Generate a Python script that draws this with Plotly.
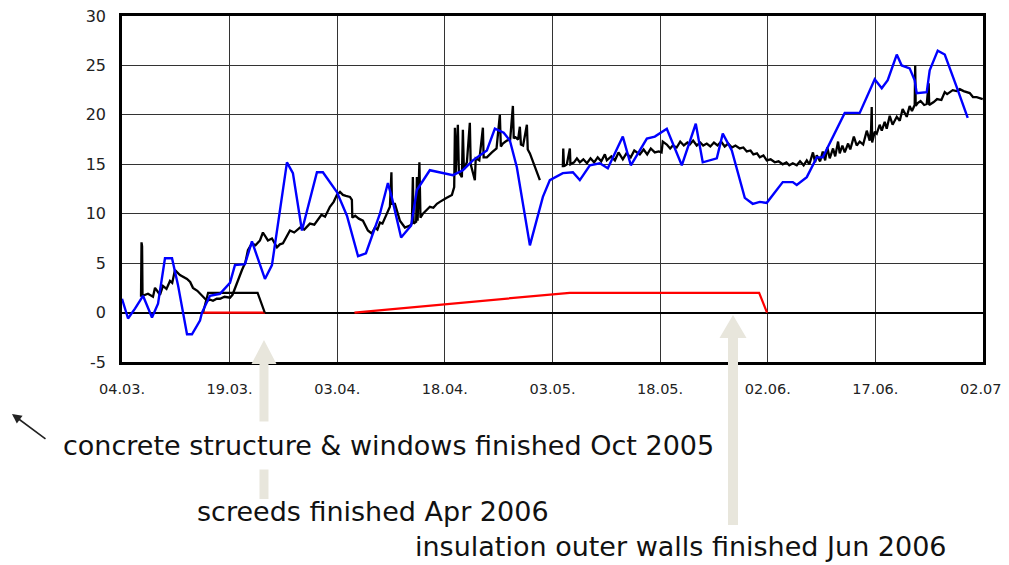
import pandas as pd
import plotly.graph_objects as go

START = "2006-03-04"

# axis ticks
tick_days = [0, 15, 30, 45, 60, 75, 90, 105, 120]
tick_labels = ["04.03.", "19.03.", "03.04.", "18.04.", "03.05.", "18.05.", "02.06.", "17.06.", "02.07."]
y_ticks = [-5, 0, 5, 10, 15, 20, 25, 30]
y_tick_labels = ["-5", "0", "5", "10", "15", "20", "25", "30"]

# outside temperature (blue), days since 04.03.
blue_days = [0, 0.84, 1.81, 2.93, 4.18, 5.02, 5.99, 6.97, 7.80, 9.06, 9.75, 10.87, 11.15, 12.26,
             13.65, 15.05, 15.74, 17.14, 18.11, 19.92, 20.90, 22.99, 23.82, 25.08, 27.17, 28.0,
             29.95, 31.35, 32.9, 34.0, 35.95, 37.06, 37.62, 38.9, 40.3, 41.1, 42.9, 44.72, 46.12,
             47.51, 48.90, 50.85, 51.97, 53.2, 54.06, 55.03, 56.85, 58.66, 59.63, 61.44, 62.84,
             63.81, 65.21, 66.60, 67.71, 69.80, 70.92, 73.15, 74.26, 75.93, 78.02, 79.97, 80.94,
             82.90, 83.73, 84.99, 86.10, 86.8, 87.91, 88.89, 89.86, 90.98, 92.09, 93.49, 94.04,
             95.44, 96.83, 97.67, 98.64, 100.73, 102.82, 104.91, 105.89, 106.72, 107.98, 108.67,
             109.78, 110.48, 110.76, 112.16, 112.57, 113.69, 114.67, 115.64, 116.34, 117.87]
blue_vals = [1.4, -0.6, 0.4, 1.7, -0.5, 0.9, 5.5, 5.5, 2.8, -2.2, -2.2, -0.8, 0.0, 1.7,
             1.9, 3.0, 4.8, 4.9, 7.2, 3.4, 4.8, 15.2, 14.1, 8.3, 14.2, 14.2,
             12.2, 9.8, 5.7, 6.0, 10.0, 13.1, 11.6, 7.6, 8.8, 12.4, 14.4, 14.1, 13.9,
             14.4, 15.4, 16.4, 18.6, 18.2, 17.4, 14.7, 6.8, 11.7, 13.4, 14.1, 14.2,
             13.4, 14.9, 15.1, 14.6, 17.8, 14.9, 17.6, 17.8, 18.6, 14.9, 19.1, 15.2,
             15.6, 18.1, 16.4, 13.4, 11.6, 11.0, 11.2, 11.1, 12.2, 13.2, 13.2, 12.9,
             13.7, 15.7, 15.7, 17.1, 20.2, 20.2, 23.6, 22.7, 23.5, 26.1, 25.0,
             24.7, 23.5, 22.2, 22.3, 24.5, 26.5, 26.1, 24.3, 22.8, 19.7]

# indoor temperature (black), two measuring periods
black_days = [2.65, 2.72, 2.80, 2.86, 3.62, 4.32, 4.60, 5.29, 5.71, 6.2, 6.69, 7.0, 7.38, 8.08, 8.5,
              9.06, 9.5, 9.89, 10.5, 10.87, 11.5, 11.84, 12.3, 12.68, 13.2, 13.65, 14.3, 15.05,
              15.4, 15.74, 16.16, 16.72, 17.2, 17.55, 18.11, 18.6, 19.23, 19.64, 20.34, 20.9,
              21.6, 22.0, 22.43, 22.9, 23.41, 24.0, 24.80, 25.4, 26.19, 26.8, 27.17, 27.8, 28.3,
              28.98, 29.5, 29.95, 30.38, 30.79, 31.2, 31.77, 32.04, 32.1, 32.5, 33.0, 33.58,
              34.27, 34.8, 35.25, 35.6, 35.95, 36.3, 36.64, 37.06, 37.34, 37.55, 37.62, 38.04,
              38.73, 39.43, 40.13, 40.4, 40.54, 40.65, 41.0, 41.10, 41.2, 41.45, 41.6, 41.94,
              42.4, 42.91, 43.4, 43.89, 44.3, 44.72, 45.2, 45.98, 46.3, 46.40, 46.5, 46.81,
              46.95, 47.37, 47.51, 47.65, 48.07, 48.48, 48.6, 49.18, 49.3, 49.8, 50.30, 50.4,
              50.85, 51.55, 52.2, 52.66, 52.8, 53.08, 53.64, 54.1, 54.48, 54.6, 54.75, 55.2,
              55.45, 55.6, 55.9, 56.43, 56.55, 56.85, 57.5, 58.24,
              None,
              61.44, 61.5, 61.6, 62.0, 62.42, 62.5, 63.0, 63.4, 63.81, 64.3, 64.8, 65.3, 65.8,
              66.3, 66.8, 67.3, 67.57, 68.2, 68.7, 69.2, 69.8, 70.3, 70.9, 71.4, 72.17, 72.7,
              73.2, 73.7, 74.26, 74.8, 75.2, 75.37, 75.93, 76.4, 76.77, 77.3, 77.8, 78.3, 78.8,
              79.14, 79.6, 80.1, 80.6, 81.0, 81.50, 82.0, 82.5, 83.0, 83.5, 84.0, 84.5, 85.0,
              85.5, 86.10, 86.6, 87.08, 87.6, 88.0, 88.5, 88.89, 89.4, 89.86, 90.4, 90.98,
              91.5, 92.09, 92.6, 93.0, 93.49, 94.04, 94.5, 95.0, 95.44, 95.8, 96.3, 96.6,
              96.83, 97.3, 97.67, 98.0, 98.3, 98.64, 99.1, 99.4, 99.8, 100.03, 100.4, 100.73,
              101.2, 101.5, 102.0, 102.4, 102.82, 103.3, 103.8, 104.21, 104.4, 104.49, 104.55,
              104.91, 105.19, 105.6, 105.89, 106.3, 106.58, 107.0, 107.4, 107.98, 108.4, 108.8,
              109.37, 109.78, 110.1, 110.48, 110.55, 110.62, 110.90, 111.3, 111.8, 112.16,
              112.43, 112.5, 113.13, 113.6, 114.2, 114.67, 115.0, 115.78, 116.3, 116.76,
              117.3, 118.15, 118.6, 119.12, 119.96]
black_vals = [1.6, 7.1, 6.7, 1.7, 1.9, 1.6, 2.5, 1.8, 2.7, 2.4, 3.2, 3.0, 4.3, 3.8, 3.6,
              3.4, 3.1, 2.5, 2.2, 1.9, 1.5, 1.2, 1.3, 1.2, 1.4, 1.4, 1.6, 1.5,
              1.8, 2.5, 3.2, 4.3, 5.1, 6.3, 7.0, 6.8, 7.3, 8.1, 7.3, 7.5,
              6.6, 6.9, 7.0, 7.6, 8.3, 8.1, 8.6, 8.4, 9.0, 8.9, 9.3, 9.9, 9.7,
              10.7, 11.2, 11.9, 12.2, 11.9, 11.8, 11.7, 11.4, 9.6, 9.8, 9.5, 9.3,
              8.3, 8.0, 8.6, 8.4, 9.1, 9.0, 9.6, 10.2, 10.7, 14.2, 11.0, 11.0,
              9.3, 8.6, 8.8, 9.0, 13.7, 9.0, 9.2, 13.7, 9.3, 15.2, 9.6, 10.0,
              10.3, 10.7, 10.6, 11.0, 11.2, 11.4, 11.6, 11.9, 12.7, 18.7, 14.0, 19.0,
              14.2, 13.7, 18.5, 14.5, 15.2, 19.2, 15.0, 13.4, 15.6, 15.4, 18.7, 15.7,
              15.7, 16.2, 16.6, 20.0, 16.8, 17.1, 17.4, 17.5, 20.9, 17.6, 17.8, 17.5,
              18.8, 17.0, 16.9, 19.0, 16.5, 16.1, 14.8, 13.4,
              None,
              14.7, 16.6, 14.8, 15.0, 16.6, 15.0, 15.2, 15.6, 15.2, 15.5, 15.1, 15.6, 15.2,
              15.7, 15.3, 16.0, 15.4, 15.8, 15.4, 16.2, 15.5, 16.1, 15.7, 16.4, 16.0, 16.5,
              16.0, 16.6, 16.2, 16.3, 16.2, 17.3, 17.0, 16.6, 16.9, 16.7, 17.3, 16.9, 17.2,
              17.0, 17.4, 16.9, 17.2, 16.9, 17.1, 16.8, 17.2, 16.9, 17.3, 16.8, 17.1, 16.7,
              16.9, 16.6, 16.7, 16.3, 16.4, 16.0, 16.1, 15.7, 15.9, 15.4, 15.5, 15.2,
              15.3, 15.0, 15.2, 14.9, 15.1, 14.9, 15.3, 14.9, 15.4, 15.0, 16.2, 15.2,
              15.9, 15.3, 16.3, 15.4, 16.7, 15.6, 16.6, 15.8, 17.3, 16.1, 16.9, 16.2,
              17.1, 16.5, 17.8, 16.9, 17.3, 17.0, 18.4, 17.4, 18.5, 20.8, 17.2,
              18.3, 18.1, 19.0, 18.4, 19.3, 18.6, 19.9, 19.0, 19.8, 19.4, 20.6,
              19.8, 20.9, 20.4, 21.0, 25.0, 20.9, 21.2, 21.4, 21.0, 21.1,
              23.2, 21.0, 21.3, 21.6, 21.5, 22.3, 22.1, 22.5, 22.4, 22.6,
              22.4, 22.2, 21.8, 21.8, 21.6]

# red construction indicator
red_days = [11.15, 19.92, None, 32.4, 62.4, 88.8, 89.9]
red_vals = [0, 0, None, 0, 2.0, 2.0, 0]

# black heating step
step_days = [11.3, 12.0, 18.9, 19.9]
step_vals = [0, 2.0, 2.0, 0]


def to_dates(days):
    base = pd.Timestamp(START)
    return [None if d is None else base + pd.Timedelta(days=d) for d in days]


# ---- layout geometry (page pixels; the page body adds an 8px margin) ----
OFF = 8
W, H = 1009 - OFF, 565 - OFF
L, R, T, B = 122, 983, 16, 362   # plot area in page pixels


def px(xp):
    return (xp - L) / (R - L)


def py(yp):
    return (B - yp) / (B - T)


fig = go.Figure()
fig.add_trace(go.Scatter(x=to_dates(red_days), y=red_vals, mode="lines",
                         line=dict(color="#ff0000", width=2.2), connectgaps=False))
fig.add_trace(go.Scatter(x=to_dates(step_days), y=step_vals, mode="lines",
                         line=dict(color="#000000", width=2.2)))
fig.add_trace(go.Scatter(x=to_dates(black_days), y=black_vals, mode="lines",
                         line=dict(color="#000000", width=2.3), connectgaps=False))
fig.add_trace(go.Scatter(x=to_dates(blue_days), y=blue_vals, mode="lines",
                         line=dict(color="#0000ff", width=2.4)))

fig.update_layout(
    width=W, height=H, autosize=False,
    margin=dict(l=L - OFF, r=(W + OFF) - R, t=T - OFF, b=(H + OFF) - B, autoexpand=False),
    plot_bgcolor="white", paper_bgcolor="white",
    showlegend=False,
    font=dict(family="DejaVu Sans", color="#111111"),
    xaxis=dict(
        type="date", automargin=False,
        range=[to_dates([0])[0], to_dates([120])[0]],
        tickvals=to_dates(tick_days), ticktext=tick_labels,
        showgrid=True, gridcolor="#333333", gridwidth=1.3,
        showline=True, linecolor="#000000", linewidth=2.5, mirror=True,
        ticks="", ticklabelstandoff=12, ticklabeloverflow="allow",
        tickfont=dict(family="DejaVu Sans", size=14.5, color="#222222"),
        zeroline=False,
    ),
    yaxis=dict(
        range=[-5, 30], automargin=False,
        tickvals=y_ticks, ticktext=y_tick_labels,
        showgrid=True, gridcolor="#333333", gridwidth=1.3,
        showline=True, linecolor="#000000", linewidth=2.5, mirror=True,
        zeroline=True, zerolinecolor="#000000", zerolinewidth=2.2,
        ticks="", ticklabelstandoff=10, ticklabeloverflow="allow",
        tickfont=dict(family="DejaVu Sans", size=16, color="#222222"),
    ),
)

# beige arrows (pointing up at construction milestones)
ARROW = "#e8e6dc"


def arrow_path(xc, tip, base, bottom, head_w, shaft_w):
    pts = [(xc, tip), (xc + head_w / 2, base), (xc + shaft_w / 2, base), (xc + shaft_w / 2, bottom),
           (xc - shaft_w / 2, bottom), (xc - shaft_w / 2, base), (xc - head_w / 2, base)]
    return "M " + " L ".join(f"{px(a):.5f},{py(b):.5f}" for a, b in pts) + " Z"


for xc, tip, base, bottom, hw, sw in [(264, 340, 364, 499, 25, 9), (733, 315, 338, 525, 27, 10)]:
    fig.add_shape(type="path", path=arrow_path(xc, tip, base, bottom, hw, sw),
                  xref="paper", yref="paper", fillcolor=ARROW, line=dict(width=0), layer="above")

texts = [
    ("concrete structure & windows finished Oct 2005", 54, 445, "white", 8),
    ("screeds finished Apr 2006", 196, 511, "rgba(0,0,0,0)", 0),
    ("insulation outer walls finished Jun 2006", 414, 546, "rgba(0,0,0,0)", 0),
]
for txt, xl, yc, bg, pad in texts:
    fig.add_annotation(text=txt, xref="paper", yref="paper", x=px(xl), y=py(yc),
                       xanchor="left", yanchor="middle", showarrow=False,
                       bgcolor=bg, borderpad=pad,
                       font=dict(family="DejaVu Sans", size=27, color="#111111"))

# small black arrow
fig.add_annotation(text="", xref="paper", yref="paper", x=px(12), y=py(414),
                   ax=35, ay=26, axref="pixel", ayref="pixel",
                   showarrow=True, arrowhead=2, arrowsize=1.2, arrowwidth=1.6, arrowcolor="#222222")

fig.write_html("out.html")
